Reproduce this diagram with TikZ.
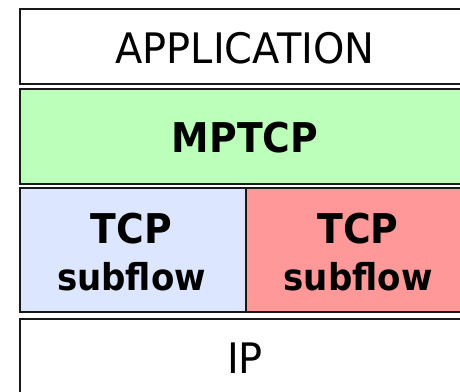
\documentclass[tikz,border=0pt]{standalone}
\usepackage{fontspec}
\setmainfont[FakeStretch=0.95,BoldFeatures={FakeStretch=0.92}]{DejaVu Sans}
\definecolor{mpgreen}{RGB}{187,255,187}
\definecolor{tcpblue}{RGB}{221,230,255}
\definecolor{tcpred}{RGB}{255,153,153}
\tikzset{
  layer/.style={draw=black!90, line width=2.4pt, inner sep=0pt, anchor=north west},
  lbl/.style={anchor=base, inner sep=0pt, font=\fontsize{42}{42}\selectfont},
  blbl/.style={anchor=base, inner sep=0pt, font=\fontsize{41}{41}\selectfont\bfseries},
  slbl/.style={anchor=base, inner sep=0pt, font=\fontsize{37}{37}\selectfont\bfseries}
}
\begin{document}
\begin{tikzpicture}[x=1pt,y=-1pt]
\useasboundingbox (0,0) rectangle (460,391);
\node[layer, fill=white, minimum width=453pt, minimum height=75.5pt] (app) at (18.5,7.5) {};
\node[layer, fill=mpgreen, minimum width=453pt, minimum height=95.5pt] (mp) at (18.5,87.5) {};
\node[layer, fill=tcpblue, minimum width=226.5pt, minimum height=124.5pt] (t1) at (18.5,186.5) {};
\node[layer, fill=tcpred, minimum width=226.5pt, minimum height=124.5pt] (t2) at (245,186.5) {};
\node[layer, fill=white, minimum width=453pt, minimum height=90pt] (ip) at (18.5,317.5) {};
\node[lbl] (apptxt) at (245,63) {APPLICATION};
\node[blbl] (mptxt) at (245,152) {MPTCP};
\node[blbl] (t1a) at (131.5,243) {TCP};
\node[slbl] (t1b) at (131.5,290) {subflow};
\node[blbl] (t2a) at (358,243) {TCP};
\node[slbl] (t2b) at (358,290) {subflow};
\node[lbl] (iptxt) at (245,373) {IP};
\end{tikzpicture}
\end{document}
